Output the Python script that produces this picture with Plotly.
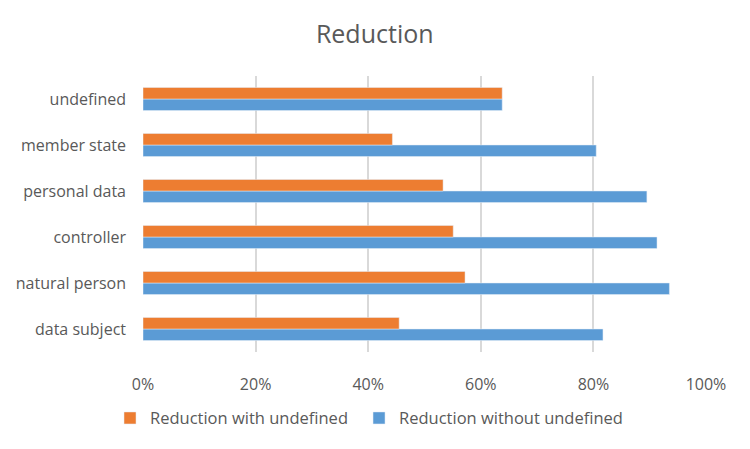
import plotly.graph_objects as go

# Data points (bottom to top, as shown)
categories = ["data subject", "natural person", "controller",
              "personal data", "member state", "undefined"]
with_undefined = [0.455, 0.572, 0.551, 0.533, 0.443, 0.638]
without_undefined = [0.817, 0.935, 0.913, 0.895, 0.805, 0.638]

text_color = "#595959"

# Blue first so the orange bar sits on top within each group
blue = go.Bar(
    y=categories,
    x=without_undefined,
    orientation="h",
    name="Reduction without undefined",
    marker=dict(color="#5b9bd5"),
    legend="legend2",
)
orange = go.Bar(
    y=categories,
    x=with_undefined,
    orientation="h",
    name="Reduction with undefined",
    marker=dict(color="#ed7d31"),
    legend="legend",
)

fig = go.Figure(data=[blue, orange])

legend_font = dict(size=16.5, color=text_color)

fig.update_layout(
    title=dict(text="Reduction", x=0.489, xref="container", xanchor="center",
               y=0.942, yref="container", yanchor="middle",
               font=dict(size=25, color=text_color)),
    font=dict(family="Open Sans, Liberation Sans, sans-serif", size=16, color=text_color),
    barmode="group",
    bargap=0.5,
    bargroupgap=0,
    width=750,
    height=449,
    margin=dict(l=135, r=52, t=68, b=105),
    plot_bgcolor="white",
    paper_bgcolor="white",
    showlegend=True,
    legend=dict(orientation="h", x=-0.0586, xanchor="left", y=-0.24, yanchor="middle",
                font=legend_font, itemwidth=30),
    legend2=dict(orientation="h", x=0.3837, xanchor="left", y=-0.24, yanchor="middle",
                 font=legend_font, itemwidth=30),
    xaxis=dict(range=[0, 1], tickvals=[0, 0.2, 0.4, 0.6, 0.8, 1.0],
               tickformat=".0%", showgrid=True, gridcolor="#d9d9d9", gridwidth=1.5,
               zeroline=False, ticks="outside", ticklen=18, tickcolor="white",
               tickfont=dict(size=16, color=text_color), fixedrange=True,
               automargin=False),
    yaxis=dict(showgrid=False, zeroline=False, ticklabelstandoff=16,
               tickfont=dict(size=16, color=text_color), fixedrange=True,
               automargin=False),
)

fig.write_html("out.html")
